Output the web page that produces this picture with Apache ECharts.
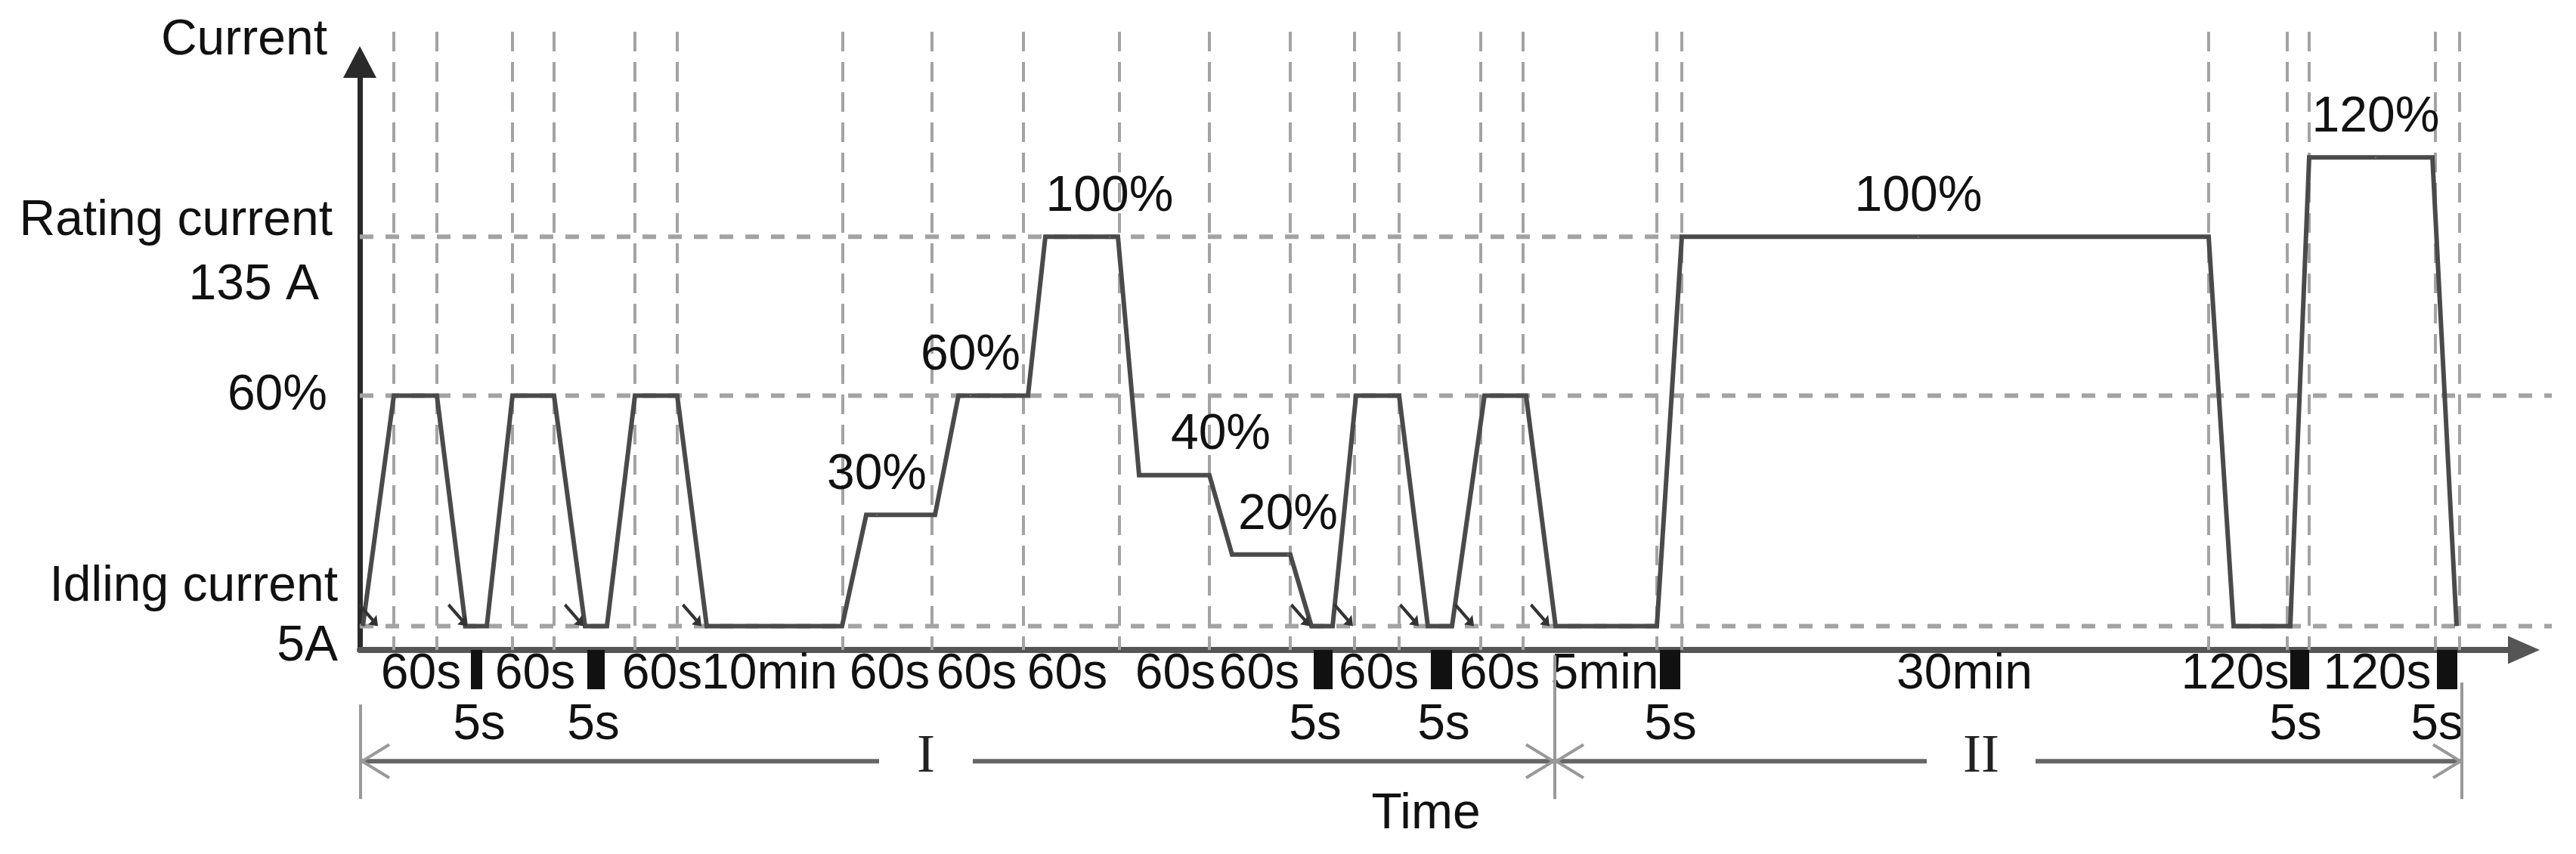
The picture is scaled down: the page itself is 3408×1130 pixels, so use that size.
<!DOCTYPE html>
<html>
<head>
<meta charset="utf-8">
<title>Test current profile</title>
<script src="https://cdn.jsdelivr.net/npm/echarts@6/dist/echarts.min.js"></script>
<style>
  html, body { margin: 0; padding: 0; background: #fff; }
  #chart { width: 3408px; height: 1130px; }
</style>
</head>
<body>
<div id="chart"></div>
<script>
// time runs along the drawing (schematic units, not to scale), current is % of rated current
const timePoints = [4, 45, 102, 140, 168, 202, 257, 298, 327, 364, 420, 459, 638, 670, 761, 792, 884, 907, 1003, 1031,
  1124, 1154, 1231, 1259, 1287, 1318, 1375, 1413, 1445, 1488, 1543, 1582, 1716, 1749, 2446, 2479, 2554, 2579, 2742, 2774];
const currentLevels = [2, 60, 60, 2, 2, 60, 60, 2, 2, 60, 60, 2, 2, 30, 30, 60, 60, 100, 100, 40,
  40, 20, 20, 2, 2, 60, 60, 2, 2, 60, 60, 2, 2, 100, 100, 2, 2, 120, 120, 2];

// dashed guide lines
const guideTimes = [45, 102, 202, 257, 364, 420, 639, 757, 878, 1005, 1124, 1231, 1316, 1375, 1483, 1539, 1716, 1749, 2446, 2550, 2579, 2746, 2778];
const guideLevels = [100, 60, 2];
const guideLevelEnds = [1749, 2900, 2900];

// 5 s idle steps, shown as black blocks under the axis
const idleStarts = [147, 301, 1262, 1417, 1720, 2554, 2748];
const idleEnds = [162, 324, 1287, 1445, 1747, 2579, 2775];

// texts along the time axis
const stepTicks = [81, 232, 400, 542, 701, 816, 936, 1079, 1190, 1348, 1508, 1647, 2123, 2481, 2669];
const stepLabels = ['60s', '60s', '60s', '10min', '60s', '60s', '60s', '60s', '60s', '60s', '60s', '5min', '30min', '120s', '120s'];
const shortTicks = [158, 309, 1264, 1434, 1734, 2561, 2748];
const shortLabels = ['5s', '5s', '5s', '5s', '5s', '5s', '5s'];
const stageBounds = [1, 1581, 2781];
const stageTicks = [749, 2145];
const stageLabels = ['I', 'II'];

// texts on the current axis
const levelTicks = [100, 60, 2];
const levelTickNames = ['Rating current\n135 A', '60%', 'Idling current\n5A'];

// percentage tags over the steps
const levelTagTimes = [684, 808, 992, 1139, 1228, 2062, 2667];
const levelTagValues = [30, 60, 100, 40, 20, 100, 120];

// small arrows at the idle corners
const cornerMarkTimes = [24, 142, 296, 452, 1257, 1314, 1401, 1474, 1574];

const FONT = '"Liberation Sans", Arial, sans-serif';
const INK = '#111';
const AXIS_Y = -4;
const GUIDE_TOP = 151.6;
const BAR_DEPTH = -13.9;
const BRACKET_Y = -32;

const chart = echarts.init(document.getElementById('chart'));

const textStyle = { fontFamily: FONT, fontSize: 66, lineHeight: 66, color: INK };

const option = {
  animation: false,
  backgroundColor: '#fff',
  grid: { left: 476, right: 69, top: 82, bottom: 270, containLabel: false, outerBoundsMode: 'none' },
  xAxis: [
    {
      type: 'value', position: 'bottom', min: 0, max: 2863,
      axisLine: { onZero: false, symbol: ['none', 'triangle'], symbolSize: [37, 42], lineStyle: { color: '#555', width: 8 } },
      axisTick: { show: false },
      splitLine: { show: false },
      axisLabel: Object.assign({ customValues: stepTicks, margin: 0,
        formatter: v => stepLabels[stepTicks.indexOf(v)] }, textStyle),
      name: 'Time', nameLocation: 'middle', nameGap: 185,
      nameTextStyle: Object.assign({ padding: [0, 42, 0, 0] }, textStyle)
    },
    {
      type: 'value', position: 'bottom', offset: 67, min: 0, max: 2863,
      axisLine: { show: false },
      axisTick: { show: false },
      splitLine: { show: false },
      axisLabel: Object.assign({ customValues: shortTicks, margin: 0,
        formatter: v => shortLabels[shortTicks.indexOf(v)] }, textStyle)
    }
  ],
  yAxis: {
    type: 'value', min: AXIS_Y, max: 144,
    axisLine: { onZero: false, symbol: ['none', 'triangle'], symbolSize: [44, 42], lineStyle: { color: '#2a2a2a', width: 7 } },
    axisTick: { show: false },
    splitLine: { show: false },
    axisLabel: {
      customValues: levelTicks,
      margin: 29,
      align: 'right',
      formatter: v => {
        const t = levelTickNames[levelTicks.indexOf(v)].split('\n');
        if (t.length === 1) return '{s|' + t[0] + '}';
        return v > 50 ? '{ra|' + t[0] + '}\n{rb|' + t[1] + '}' : '{ia|' + t[0] + '}\n{ib|' + t[1] + '}';
      },
      rich: {
        s: Object.assign({}, textStyle, { padding: [0, 14, 0, 0] }),
        ra: Object.assign({}, textStyle, { lineHeight: 128, padding: [0, 7, 0, 0] }),
        rb: Object.assign({}, textStyle, { lineHeight: 42, padding: [0, 25, 0, 0] }),
        ia: Object.assign({}, textStyle, { lineHeight: 54 }),
        ib: Object.assign({}, textStyle, { lineHeight: 104 })
      }
    },
    name: 'Current', nameLocation: 'end', nameGap: 28,
    nameTextStyle: Object.assign({ align: 'right', verticalAlign: 'middle', padding: [0, 43, 0, 0] }, textStyle)
  },
  series: [
    {
      name: 'guides-v', type: 'custom', z: 1, clip: false,
      data: guideTimes.map(t => [t, GUIDE_TOP]),
      renderItem: (params, api) => {
        const a = api.coord([api.value(0), GUIDE_TOP]);
        const b = api.coord([api.value(0), AXIS_Y]);
        return { type: 'line', shape: { x1: a[0], y1: a[1], x2: b[0], y2: b[1] },
          style: { stroke: '#a3a3a3', lineWidth: 4, lineDash: [26, 14] } };
      }
    },
    {
      name: 'guides-h', type: 'custom', z: 1, clip: false,
      data: guideLevels.map((v, i) => [guideLevelEnds[i], v]),
      renderItem: (params, api) => {
        const a = api.coord([0, api.value(1)]);
        const b = api.coord([api.value(0), api.value(1)]);
        return { type: 'line', shape: { x1: a[0], y1: a[1], x2: b[0], y2: b[1] },
          style: { stroke: '#a3a3a3', lineWidth: 6, lineDash: [18, 16] } };
      }
    },
    {
      name: 'current', type: 'line', z: 5, clip: false,
      data: timePoints.map((t, i) => [t, currentLevels[i]]),
      symbol: 'none',
      lineStyle: { color: '#4a4a4a', width: 6, join: 'miter' }
    },
    {
      name: 'idle 5s', type: 'custom', z: 4, clip: false,
      data: idleStarts.map((s, i) => [s, idleEnds[i]]),
      renderItem: (params, api) => {
        const a = api.coord([api.value(0), AXIS_Y]);
        const b = api.coord([api.value(1), BAR_DEPTH]);
        return { type: 'rect', shape: { x: a[0], y: a[1], width: b[0] - a[0], height: b[1] - a[1] },
          style: { fill: '#111' } };
      }
    },
    {
      name: 'stages', type: 'custom', z: 4, clip: false,
      data: stageLabels.map((s, i) => [stageBounds[i], stageBounds[i + 1], stageTicks[i]]),
      renderItem: (params, api) => {
        const a = api.coord([api.value(0), BRACKET_Y]);
        const b = api.coord([api.value(1), BRACKET_Y]);
        const m = api.coord([api.value(2), BRACKET_Y]);
        const label = stageLabels[params.dataIndex];
        const gap = 62 + 10 * (label.length - 1);
        const y = a[1];
        const thick = { stroke: '#666', lineWidth: 6 };
        const thin = { stroke: '#999', lineWidth: 4, fill: null };
        const endTop = params.dataIndex === 0 ? 140 : 104;
        return {
          type: 'group',
          children: [
            { type: 'line', shape: { x1: a[0], y1: y, x2: m[0] - gap, y2: y }, style: thick },
            { type: 'line', shape: { x1: m[0] + gap, y1: y, x2: b[0], y2: y }, style: thick },
            { type: 'polyline', shape: { points: [[a[0] + 38, y - 22], [a[0] + 2, y], [a[0] + 38, y + 22]] }, style: thin },
            { type: 'polyline', shape: { points: [[b[0] - 38, y - 22], [b[0] - 2, y], [b[0] - 38, y + 22]] }, style: thin },
            { type: 'line', shape: { x1: a[0], y1: y - 75, x2: a[0], y2: y + 50 }, style: thin },
            { type: 'line', shape: { x1: b[0], y1: y - endTop, x2: b[0], y2: y + 50 }, style: thin },
            { type: 'text', style: { text: label, x: m[0], y: y - 5, font: '72px "Liberation Serif", serif',
              fill: '#222', align: 'center', verticalAlign: 'middle' } }
          ]
        };
      }
    },
    {
      name: 'level tags', type: 'scatter', z: 6, clip: false,
      data: levelTagTimes.map((t, i) => [t, levelTagValues[i]]),
      symbolSize: 1,
      itemStyle: { color: '#fff', opacity: 1 },
      label: Object.assign({ show: true, position: 'top', distance: 19,
        formatter: p => p.value[1] + '%' }, textStyle)
    },
    {
      name: 'corner marks', type: 'scatter', z: 6, clip: false,
      data: cornerMarkTimes.map(t => [t, currentLevels[0]]),
      symbol: 'path://M0,3 L3,0 L22,19 L26,14 L28,28 L14,26 L19,22 Z',
      symbolSize: [26, 30],
      symbolOffset: [-13, -15],
      itemStyle: { color: '#333', opacity: 1 }
    }
  ]
};

chart.setOption(option);
window.addEventListener('resize', () => chart.resize());
</script>
</body>
</html>
